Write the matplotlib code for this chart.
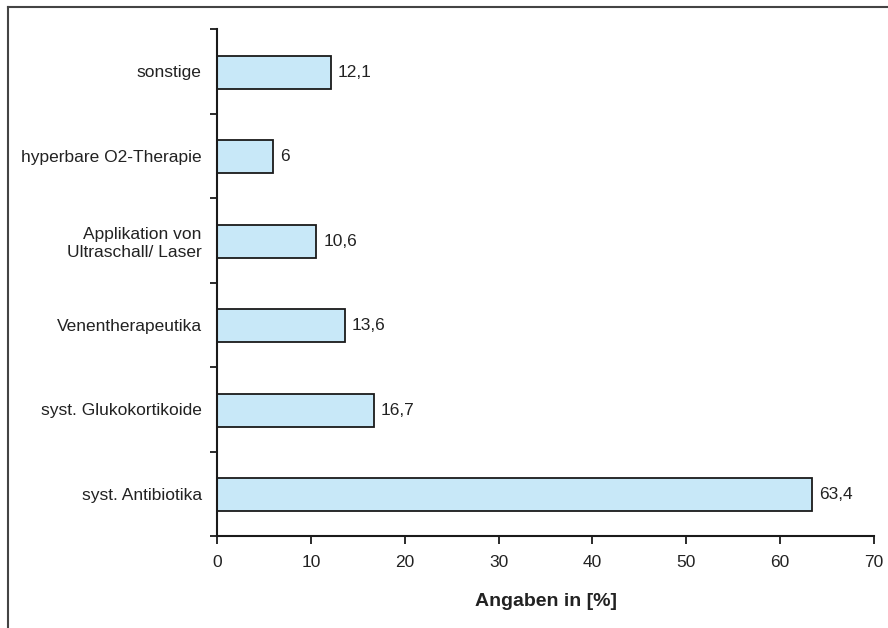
import matplotlib
matplotlib.use("Agg")
import matplotlib.pyplot as plt
from matplotlib.lines import Line2D
from matplotlib.ticker import FixedLocator

categories = ["syst. Antibiotika", "syst. Glukokortikoide", "Venentherapeutika",
              "Applikation von\nUltraschall/ Laser", "hyperbare O2-Therapie", "sonstige"]
values = [63.4, 16.7, 13.6, 10.6, 6.0, 12.1]
value_labels = ["63,4", "16,7", "13,6", "10,6", "6", "12,1"]
x_ticks = [0, 10, 20, 30, 40, 50, 60, 70]

plt.rcParams['font.family'] = ['Liberation Sans', 'DejaVu Sans']

fig = plt.figure(figsize=(8.88, 6.28), dpi=100)
ax = fig.add_axes([217/888, 1-536/628, (874-217)/888, (536-29)/628])

ypos = list(range(len(categories)))
ax.barh([y - 0.01 for y in ypos], values, height=0.39, color="#C8E8F8",
        edgecolor="#1a1a1a", linewidth=1.3)

for y, v, lab in zip(ypos, values, value_labels):
    ax.annotate(lab, (v, y - 0.01), xytext=(5, 0), textcoords="offset points",
                va="center", ha="left", fontsize=12.5, color="#222222")

ax.set_xlim(0, 70)
ax.set_ylim(-0.5, 5.5)
ax.set_xticks(x_ticks)
ax.set_xticklabels([str(t) for t in x_ticks], fontsize=12.5, color="#222222")
ax.set_yticks(ypos)
ax.set_yticklabels(categories, fontsize=12.5, color="#222222", linespacing=1.25)
ax.yaxis.set_minor_locator(FixedLocator([i - 0.5 for i in range(len(categories) + 1)]))
ax.tick_params(axis="y", which="major", length=0, pad=11)
ax.tick_params(axis="y", which="minor", length=5, width=1.3, color="#1a1a1a", direction="out")
ax.tick_params(axis="x", which="major", length=6, width=1.3, color="#1a1a1a", direction="out", pad=8)

for s in ["top", "right"]:
    ax.spines[s].set_visible(False)
for s in ["left", "bottom"]:
    ax.spines[s].set_linewidth(1.5)
    ax.spines[s].set_color("#1a1a1a")

ax.set_xlabel("Angaben in [%]", fontsize=14, fontweight="bold", labelpad=16, color="#222222")

fig.add_artist(Line2D([7.5/888, 1], [1-6.5/628, 1-6.5/628], transform=fig.transFigure,
                      color="#444444", linewidth=1.5))
fig.add_artist(Line2D([7.5/888, 7.5/888], [0, 1-6.5/628], transform=fig.transFigure,
                      color="#444444", linewidth=1.5))

fig.savefig("out.png", dpi=100)
